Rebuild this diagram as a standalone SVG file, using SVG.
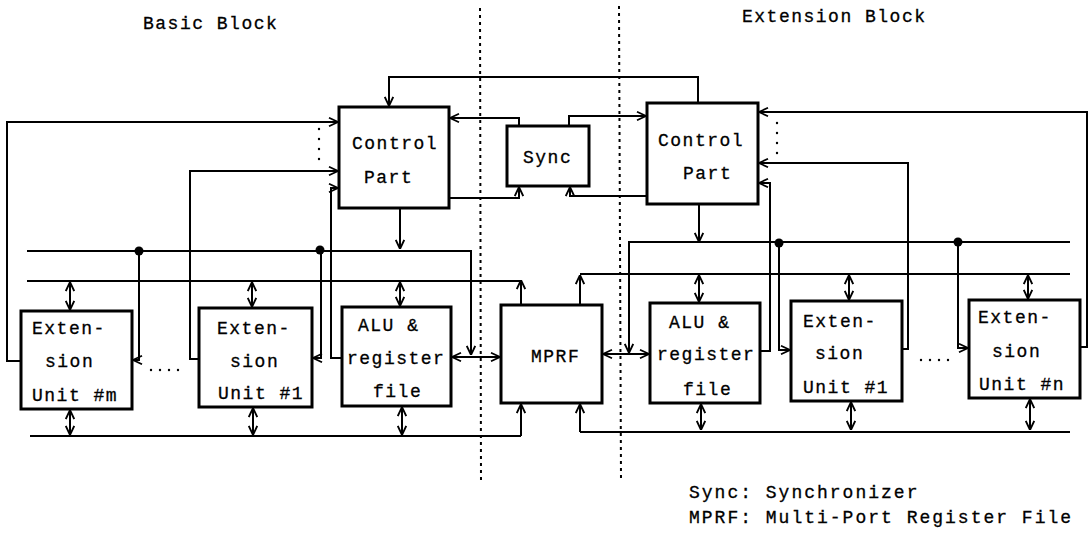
<svg xmlns="http://www.w3.org/2000/svg" width="1091" height="535" viewBox="0 0 1091 535">
<style>
.box{fill:#fff;stroke:#000;stroke-width:3}
.ln{fill:none;stroke:#000;stroke-width:2}
.ar{fill:none;stroke:#000;stroke-width:2;marker-end:url(#a)}
.bi{fill:none;stroke:#000;stroke-width:2;marker-start:url(#a);marker-end:url(#a)}
.dv{fill:none;stroke:#000;stroke-width:2;stroke-dasharray:3 4}
.t{font-family:"Liberation Mono","DejaVu Sans Mono",monospace;font-size:18px;letter-spacing:1.5px;fill:#000;stroke:#000;stroke-width:0.3}
.lg{letter-spacing:2px}
</style>
<defs>
<marker id="a" viewBox="0 0 10 10" refX="10" refY="5" markerWidth="10" markerHeight="10" markerUnits="userSpaceOnUse" orient="auto-start-reverse">
<path d="M1,0.8 L10,5 L1,9.2" fill="none" stroke="#000" stroke-width="1.8"/>
</marker>
</defs>
<rect width="1091" height="535" fill="#fff"/>
<text class="t" x="143" y="29">Basic Block</text>
<text class="t" x="742" y="22">Extension Block</text>
<g id="dividers">
<line class="dv" x1="480" y1="8" x2="481" y2="483"/>
<line class="dv" x1="619" y1="6" x2="621" y2="480"/>
</g>
<g id="connectors">
<path class="ar" d="M698,103 V77 H389 V106"/>
<path class="ar" d="M21,361 H7 V122 H338"/>
<path class="ar" d="M199,359 H190 V171 H338"/>
<path class="ar" d="M342,358 H331 V188 H338"/>
<path class="ar" d="M449,198 H519 V187"/>
<path class="ar" d="M519,126 V118 H450"/>
<path class="ar" d="M569,126 V116 H646"/>
<path class="ar" d="M647,196 H570 V187"/>
<path class="ar" d="M400,208 V249"/>
<path class="ar" d="M27,251 H471 V355"/>
<path class="ar" d="M139,251 V360 H133"/>
<path class="ar" d="M321,250 V358 H313"/>
<path class="ln" d="M27,281 H521"/>
<path class="ar" d="M521,305 V280"/>
<path class="ln" d="M30,436 H521"/>
<path class="ar" d="M521,436 V404"/>
<path class="bi" d="M452,357 H500"/>
<path class="bi" d="M70,282 V310"/>
<path class="bi" d="M252,282 V307"/>
<path class="bi" d="M400,282 V306"/>
<path class="bi" d="M70,410 V435"/>
<path class="bi" d="M253,408 V435"/>
<path class="bi" d="M402,407 V435"/>
<path class="ln" d="M580,274 H1070"/>
<path class="ar" d="M580,305 V275"/>
<path class="ln" d="M580,432 H1070"/>
<path class="ar" d="M580,432 V404"/>
<path class="ar" d="M699,204 V242"/>
<path class="ar" d="M1070,242 H629 V353"/>
<path class="ar" d="M779,243 V350 H790"/>
<path class="ar" d="M958,242 V348 H968"/>
<path class="bi" d="M603,354 H649"/>
<path class="ar" d="M1080,347 H1087 V112 H759"/>
<path class="ar" d="M902,349 H908 V163 H759"/>
<path class="ar" d="M760,351 H770 V183 H759"/>
<path class="bi" d="M699,275 V302"/>
<path class="bi" d="M849,275 V300"/>
<path class="bi" d="M1028,275 V299"/>
<path class="bi" d="M701,404 V430"/>
<path class="bi" d="M851,402 V430"/>
<path class="bi" d="M1030,399 V430"/>
<g fill="#000">
<circle cx="139" cy="251" r="4.5"/>
<circle cx="320" cy="250" r="4.5"/>
<circle cx="779" cy="243" r="4.5"/>
<circle cx="958" cy="242" r="4.5"/>
<circle cx="319" cy="129" r="1.2"/><circle cx="319" cy="139" r="1.2"/><circle cx="319" cy="149" r="1.2"/><circle cx="319" cy="159" r="1.2"/>
<circle cx="777" cy="123" r="1.2"/><circle cx="777" cy="133" r="1.2"/><circle cx="777" cy="143" r="1.2"/><circle cx="777" cy="153" r="1.2"/>
<circle cx="151" cy="370" r="1.2"/><circle cx="160" cy="370" r="1.2"/><circle cx="169" cy="370" r="1.2"/><circle cx="178" cy="370" r="1.2"/>
<circle cx="921" cy="360" r="1.2"/><circle cx="930" cy="360" r="1.2"/><circle cx="939" cy="360" r="1.2"/><circle cx="948" cy="360" r="1.2"/>
</g>
</g>
<g id="control-left">
<rect class="box" x="339" y="107" width="110" height="101"/>
<text class="t" x="352" y="149">Control</text>
<text class="t" x="364" y="183">Part</text>
</g>
<g id="sync">
<rect class="box" x="507" y="126" width="82" height="60"/>
<text class="t" x="523" y="163">Sync</text>
</g>
<g id="control-right">
<rect class="box" x="647" y="103" width="111" height="101"/>
<text class="t" x="658" y="146">Control</text>
<text class="t" x="683" y="179">Part</text>
</g>
<g id="ext-m">
<rect class="box" x="21" y="311" width="111" height="98"/>
<text class="t" x="32" y="334">Exten-</text>
<text class="t" x="45" y="367">sion</text>
<text class="t" x="32" y="401">Unit #m</text>
</g>
<g id="ext-1-left">
<rect class="box" x="199" y="308" width="113" height="99"/>
<text class="t" x="217" y="334">Exten-</text>
<text class="t" x="230" y="367">sion</text>
<text class="t" x="218" y="399">Unit #1</text>
</g>
<g id="alu-left">
<rect class="box" x="342" y="307" width="109" height="99"/>
<text class="t" x="358" y="331">ALU &amp;</text>
<text class="t" x="347" y="364">register</text>
<text class="t" x="373" y="397">file</text>
</g>
<g id="mprf">
<rect class="box" x="501" y="305" width="101" height="98"/>
<text class="t" x="531" y="362">MPRF</text>
</g>
<g id="alu-right">
<rect class="box" x="650" y="303" width="110" height="100"/>
<text class="t" x="669" y="328">ALU &amp;</text>
<text class="t" x="657" y="360">register</text>
<text class="t" x="683" y="395">file</text>
</g>
<g id="ext-1-right">
<rect class="box" x="791" y="301" width="111" height="100"/>
<text class="t" x="803" y="327">Exten-</text>
<text class="t" x="815" y="359">sion</text>
<text class="t" x="803" y="393">Unit #1</text>
</g>
<g id="ext-n">
<rect class="box" x="969" y="300" width="111" height="98"/>
<text class="t" x="978" y="323">Exten-</text>
<text class="t" x="992" y="357">sion</text>
<text class="t" x="979" y="390">Unit #n</text>
</g>
<g id="legend">
<text class="t lg" x="689" y="498">Sync: Synchronizer</text>
<text class="t lg" x="689" y="523">MPRF: Multi-Port Register File</text>
</g>
</svg>
